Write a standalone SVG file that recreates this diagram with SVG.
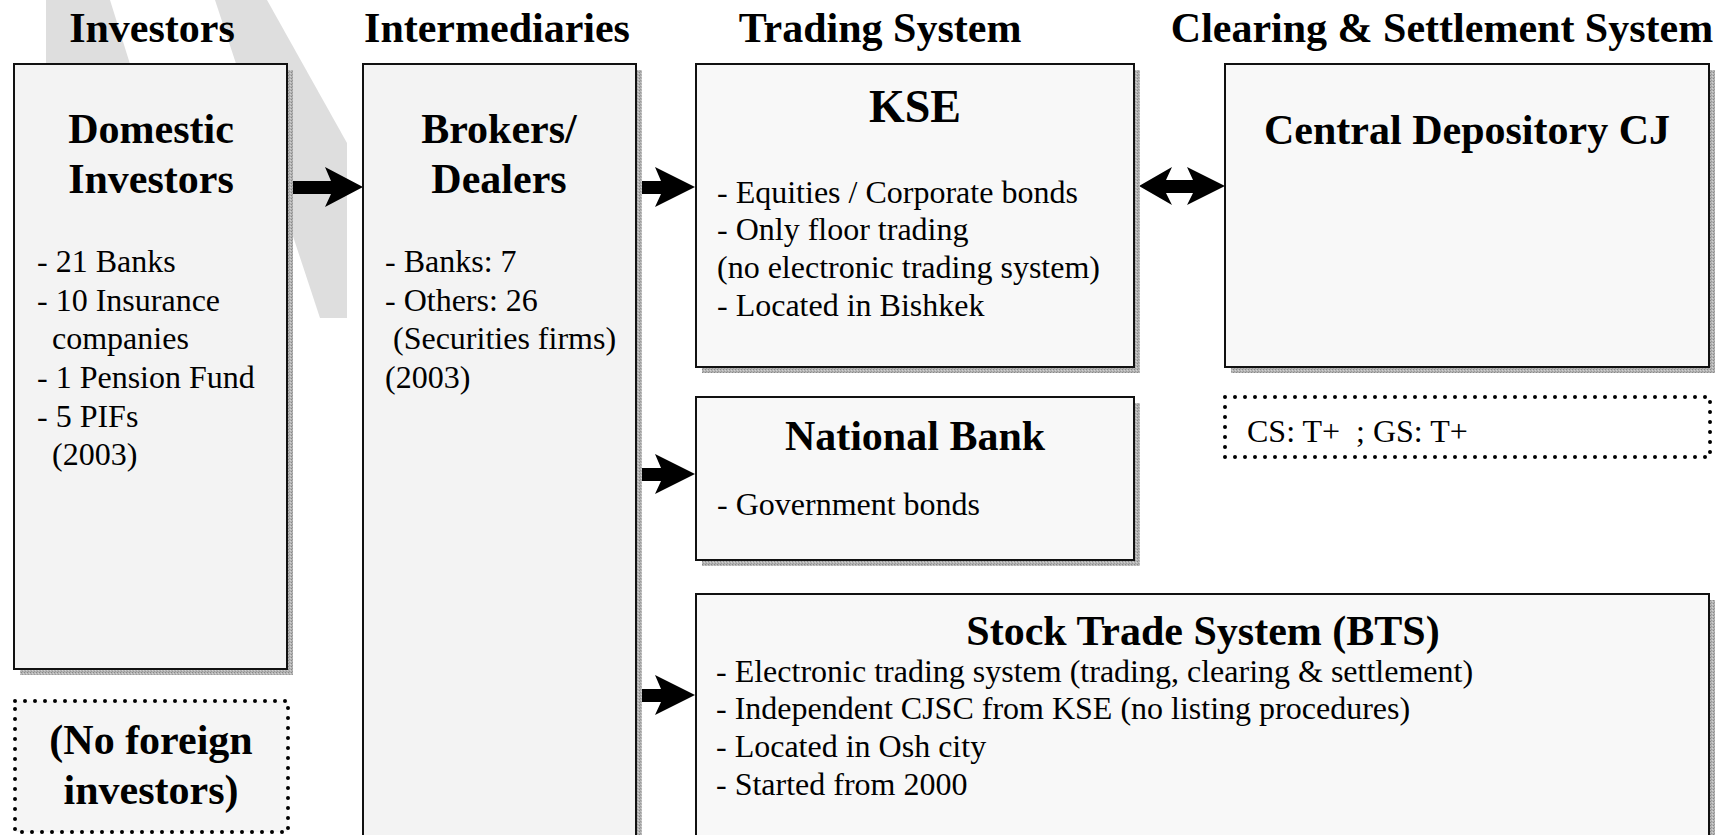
<svg xmlns="http://www.w3.org/2000/svg" width="1731" height="835" viewBox="0 0 1731 835">
<style>
text{font-family:"Liberation Serif","Times New Roman",serif;fill:#000}
.hd{font-size:42px;font-weight:bold;text-anchor:middle}
.tt{font-size:42px;font-weight:bold;text-anchor:middle}
.bd{font-size:32px}
.box{stroke:#111;stroke-width:2}
.f1{fill:#f3f3f3}
.f2{fill:#f8f8f8}
.dot{fill:none;stroke:#000;stroke-width:4;stroke-linecap:round;stroke-dasharray:0 10}
.arr{fill:#000}
.wm{fill:#dedede}
</style>
<defs>
<pattern id="sh" width="3" height="3" patternUnits="userSpaceOnUse">
<rect width="3" height="3" fill="#b4b4b4"/>
<rect width="1" height="1" fill="#888"/>
<rect x="2" y="1" width="1" height="1" fill="#d2d2d2"/>
<rect x="1" y="2" width="1" height="1" fill="#9a9a9a"/>
</pattern>
</defs>
<rect width="1731" height="835" fill="#fff"/>
<g id="watermark">
<polygon class="wm" points="46,0 110,0 210,320 46,320"/>
<polygon class="wm" points="215,0 267,0 347,143 347,318 320,318"/>
</g>
<g id="headers">
<text class="hd" x="152" y="42">Investors</text>
<text class="hd" x="497" y="42">Intermediaries</text>
<text class="hd" x="880" y="42">Trading System</text>
<text class="hd" x="1442" y="42">Clearing &amp; Settlement System</text>
</g>
<g id="connectors">
<polygon class="arr" points="292,181 331,181 325,167 363,187 325,207 331,194 292,194"/>
<polygon class="arr" points="641,181 661,181 655,167 695,187 655,207 661,194 641,194"/>
<polygon class="arr" points="641,468 661,468 655,454 695,474 655,494 661,481 641,481"/>
<polygon class="arr" points="641,689 661,689 655,675 695,695 655,715 661,702 641,702"/>
<polygon class="arr" points="1139,186 1172,167 1166,180 1193,180 1187,167 1225,186 1187,205 1193,193 1166,193 1172,205"/>
</g>
<g id="domestic-investors">
<rect x="20" y="70" width="273" height="605" fill="url(#sh)"/>
<rect class="box f1" x="14" y="64" width="273" height="605"/>
<text class="tt" x="151" y="143">Domestic</text>
<text class="tt" x="151" y="193">Investors</text>
<text class="bd" x="37" y="272">- 21 Banks</text>
<text class="bd" x="37" y="311">- 10 Insurance</text>
<text class="bd" x="52" y="349">companies</text>
<text class="bd" x="37" y="388">- 1 Pension Fund</text>
<text class="bd" x="37" y="427">- 5 PIFs</text>
<text class="bd" x="52" y="465">(2003)</text>
</g>
<g id="no-foreign">
<rect x="15" y="701" width="273" height="131" fill="#f5f5f5"/>
<rect class="dot" x="15" y="701" width="273" height="131"/>
<text class="tt" x="151" y="754">(No foreign</text>
<text class="tt" x="151" y="804">investors)</text>
</g>
<g id="brokers-dealers">
<rect x="369" y="70" width="273" height="800" fill="url(#sh)"/>
<rect class="box f1" x="363" y="64" width="273" height="800"/>
<text class="tt" x="499" y="143">Brokers/</text>
<text class="tt" x="499" y="193">Dealers</text>
<text class="bd" x="385" y="272">- Banks: 7</text>
<text class="bd" x="385" y="311">- Others: 26</text>
<text class="bd" x="393" y="349">(Securities firms)</text>
<text class="bd" x="385" y="388">(2003)</text>
</g>
<g id="kse">
<rect x="702" y="70" width="438" height="303" fill="url(#sh)"/>
<rect class="box f2" x="696" y="64" width="438" height="303"/>
<text class="tt" x="915" y="122" style="font-size:46px">KSE</text>
<text class="bd" x="717" y="203">- Equities / Corporate bonds</text>
<text class="bd" x="717" y="240">- Only floor trading</text>
<text class="bd" x="717" y="278">(no electronic trading system)</text>
<text class="bd" x="717" y="316">- Located in Bishkek</text>
</g>
<g id="national-bank">
<rect x="702" y="403" width="438" height="163" fill="url(#sh)"/>
<rect class="box f2" x="696" y="397" width="438" height="163"/>
<text class="tt" x="915" y="450">National Bank</text>
<text class="bd" x="717" y="515">- Government bonds</text>
</g>
<g id="bts">
<rect x="702" y="600" width="1013" height="300" fill="url(#sh)"/>
<rect class="box f2" x="696" y="594" width="1013" height="300"/>
<text class="tt" x="1203" y="645">Stock Trade System (BTS)</text>
<text class="bd" x="716" y="682">- Electronic trading system (trading, clearing &amp; settlement)</text>
<text class="bd" x="716" y="719">- Independent CJSC from KSE (no listing procedures)</text>
<text class="bd" x="716" y="757">- Located in Osh city</text>
<text class="bd" x="716" y="795">- Started from 2000</text>
</g>
<g id="central-depository">
<rect x="1231" y="70" width="484" height="303" fill="url(#sh)"/>
<rect class="box f2" x="1225" y="64" width="484" height="303"/>
<text class="tt" x="1467" y="144">Central Depository CJ</text>
</g>
<g id="settlement-note">
<rect class="dot" x="1225" y="397" width="485" height="60"/>
<text class="bd" x="1247" y="442" xml:space="preserve">CS: T+  ; GS: T+</text>
</g>
</svg>
